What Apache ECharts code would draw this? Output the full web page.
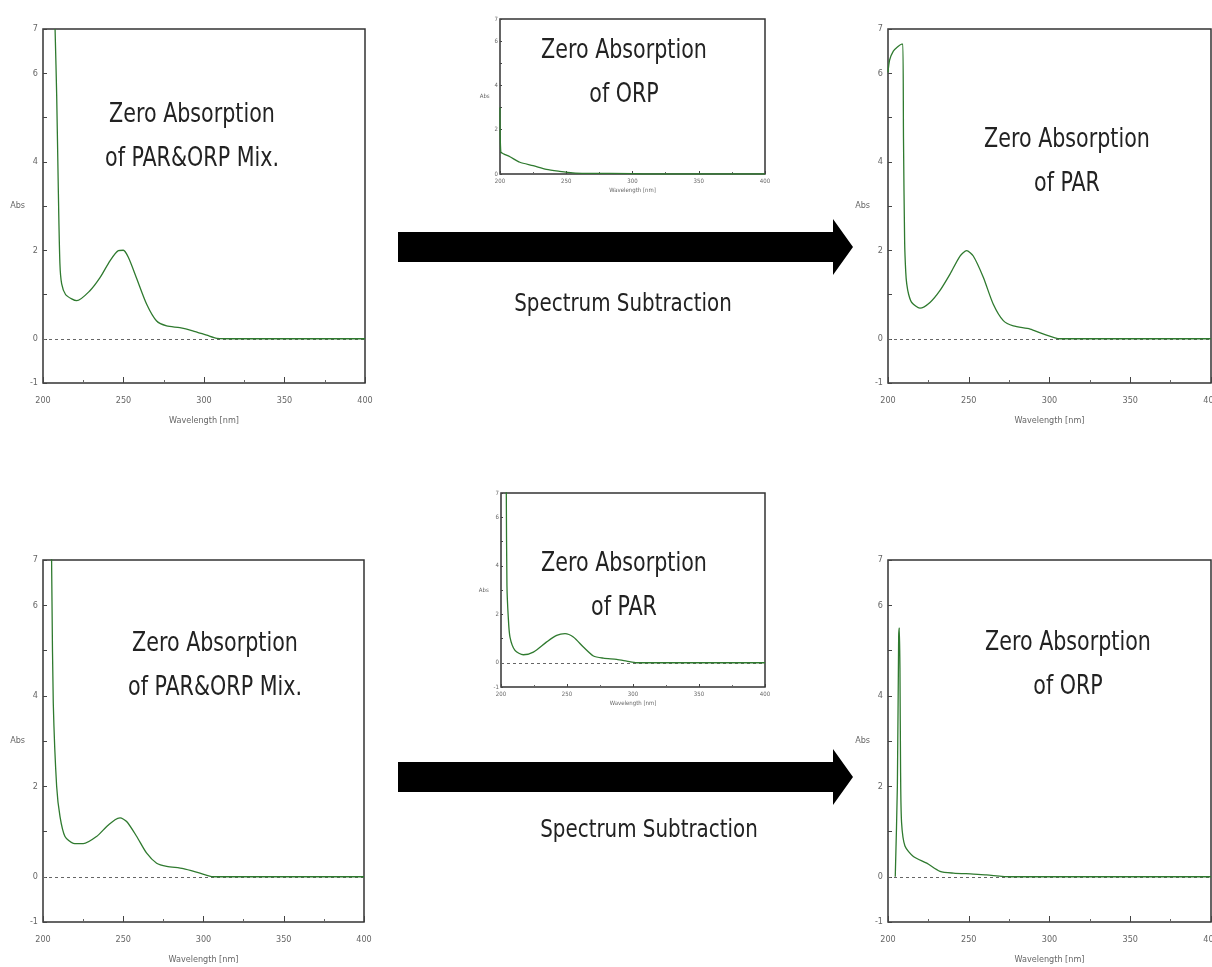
<!DOCTYPE html>
<html>
<head>
<meta charset="utf-8">
<title>Spectrum subtraction</title>
<script src="https://cdn.jsdelivr.net/npm/echarts@6.0.0/dist/echarts.min.js"></script>
<style>
  html, body { margin: 0; padding: 0; background: #fff; overflow: hidden; }
  #chart { width: 1212px; height: 967px; }
</style>
</head>
<body>
<div id="chart"></div>
<script>
// wavelength [nm] and Abs
const mixTopX = [207.5, 208.5, 209.5, 210.5, 211.6, 214, 217.8, 221, 229, 235.4, 241.6, 246.8, 249.9, 253, 258, 264.4, 270.6, 276.8, 285, 293, 301.7, 308, 320, 360, 400]
const mixTopY = [7.0, 5.5, 3.4, 1.7, 1.24, 1.0, 0.9, 0.86, 1.08, 1.38, 1.76, 1.99, 2.0, 1.84, 1.38, 0.78, 0.4, 0.29, 0.25, 0.18, 0.08, 0.01, 0, 0, 0]

const orpTopX = [200, 200.6, 203, 207.5, 215, 225, 235, 245, 255, 265, 300, 310, 400]
const orpTopY = [3.0, 1.0, 0.9, 0.78, 0.53, 0.38, 0.21, 0.12, 0.05, 0.03, 0.02, 0, 0]

const parTopX = [200, 201, 203.3, 206, 208.5, 209.2, 209.6, 210.3, 211, 211.6, 212.8, 214.7, 219.8, 226, 232, 238.4, 244.6, 248.7, 252.8, 259, 265.2, 271.4, 277.6, 288, 296, 306.5, 320, 400]
const parTopY = [6.02, 6.3, 6.5, 6.6, 6.66, 6.66, 4.5, 2.2, 1.5, 1.24, 1.0, 0.82, 0.69, 0.82, 1.08, 1.46, 1.87, 1.99, 1.87, 1.39, 0.78, 0.41, 0.29, 0.22, 0.11, 0, 0, 0]

const mixBotX = [205.3, 205.6, 206.4, 208.5, 210.6, 213.7, 218.9, 225.1, 233.4, 239.7, 244.9, 248, 252.1, 258.4, 264.6, 270.8, 277.1, 287.4, 297.8, 306, 320, 400]
const mixBotY = [7.2, 6.1, 3.84, 2.0, 1.33, 0.89, 0.74, 0.73, 0.89, 1.11, 1.26, 1.3, 1.22, 0.89, 0.52, 0.3, 0.23, 0.18, 0.08, 0, 0, 0]

const parBotX = [204, 204.5, 205.5, 206.8, 210.6, 216.9, 224.5, 234.6, 242.2, 248.5, 254.8, 262.4, 270, 277.5, 287.6, 295.2, 302.8, 320, 400]
const parBotY = [7.2, 3.2, 1.89, 1.06, 0.51, 0.33, 0.44, 0.86, 1.13, 1.2, 1.06, 0.65, 0.28, 0.19, 0.14, 0.07, 0, 0, 0]

const orpBotX = [204.5, 204.8, 205.8, 206.6, 207, 207.4, 207.8, 208.4, 210.5, 215.7, 224, 232.2, 240.5, 252.9, 261, 276, 400]
const orpBotY = [0, 0, 2.0, 5.3, 5.5, 4.6, 2.3, 1.2, 0.68, 0.45, 0.3, 0.12, 0.08, 0.06, 0.04, 0, 0]

const xTicks = [200, 250, 300, 350, 400]
const yLabelsBig = [-1, 0, 2, 4, 6, 7]
const yLabelsSmall = [0, 2, 4, 6, 7]

const panels = [
  { box: [43, 29, 322, 354], x: mixTopX, y: mixTopY, yMin: -1, labels: yLabelsBig, small: false,
    title: ['Zero Absorption', 'of PAR&ORP Mix.'], tc: [192, 115] },
  { box: [500, 19, 265, 155], x: orpTopX, y: orpTopY, yMin: 0, labels: yLabelsSmall, small: true,
    title: ['Zero Absorption', 'of ORP'], tc: [624, 51] },
  { box: [888, 29, 323, 354], x: parTopX, y: parTopY, yMin: -1, labels: yLabelsBig, small: false,
    title: ['Zero Absorption', 'of PAR'], tc: [1067, 140] },
  { box: [43, 560, 321, 362], x: mixBotX, y: mixBotY, yMin: -1, labels: yLabelsBig, small: false,
    title: ['Zero Absorption', 'of PAR&ORP Mix.'], tc: [215, 644] },
  { box: [501, 493, 264, 194], x: parBotX, y: parBotY, yMin: -1, labels: yLabelsBig, small: true,
    title: ['Zero Absorption', 'of PAR'], tc: [624, 564] },
  { box: [888, 560, 323, 362], x: orpBotX, y: orpBotY, yMin: -1, labels: yLabelsBig, small: false,
    title: ['Zero Absorption', 'of ORP'], tc: [1068, 643] },
]

const narrow = '"Liberation Sans Narrow", "DejaVu Sans Condensed", sans-serif'

const grid = []
const xAxis = []
const yAxis = []
const series = []
const graphic = []

panels.forEach((p, i) => {
  const fs = p.small ? 6 : 9
  grid.push({
    left: p.box[0], top: p.box[1], width: p.box[2], height: p.box[3],
    outerBoundsMode: 'none', containLabel: false,
    show: true, borderColor: '#333', borderWidth: 1.5, backgroundColor: '#fff'
  })
  xAxis.push({
    gridIndex: i, type: 'value', min: 200, max: 400, interval: 50,
    name: 'Wavelength [nm]', nameLocation: 'middle', nameGap: p.small ? 13 : 33,
    nameTextStyle: { fontFamily: narrow, fontSize: fs, color: '#666' },
    axisLine: { show: false, onZero: false },
    axisTick: { show: true, inside: true, length: p.small ? 3 : 6, lineStyle: { color: '#444' } },
    minorTick: { show: true, splitNumber: 2, length: p.small ? 2 : 3, lineStyle: { color: '#666' } },
    splitLine: { show: false },
    axisLabel: {
      fontFamily: narrow, fontSize: fs, color: '#666', margin: p.small ? 4 : 13,
      formatter: v => xTicks.includes(v) ? String(v) : ''
    }
  })
  yAxis.push({
    gridIndex: i, type: 'value', min: p.yMin, max: 7, interval: 1,
    name: 'Abs', nameLocation: 'middle', nameRotate: 0, nameGap: p.small ? 10 : 14,
    nameTextStyle: { fontFamily: narrow, fontSize: fs, color: '#666' },
    axisLine: { show: false, onZero: false },
    axisTick: { show: true, inside: true, length: p.small ? 2 : 4, lineStyle: { color: '#444' } },
    splitLine: { show: false },
    axisLabel: {
      fontFamily: narrow, fontSize: fs, color: '#666', margin: p.small ? 2 : 5,
      formatter: v => p.labels.includes(v) ? String(v) : ''
    }
  })
  const s = {
    type: 'line', xAxisIndex: i, yAxisIndex: i,
    data: p.x.map((w, k) => [w, p.y[k]]),
    showSymbol: false, smooth: 0.25, clip: true,
    lineStyle: { color: '#2f7a2f', width: 1.3 },
    z: 3
  }
  if (p.yMin < 0) {
    s.markLine = {
      silent: true, symbol: 'none', label: { show: false },
      lineStyle: { color: '#666', type: [3, 3], width: 1 },
      data: [{ yAxis: 0 }],
      z: 2
    }
  }
  series.push(s)
  p.title.forEach((t, k) => {
    graphic.push({
      type: 'text', z: 10,
      x: p.tc[0], y: p.tc[1] + k * 44, scaleX: 0.85,
      style: {
        text: t, x: 0, y: 0,
        textAlign: 'center', textVerticalAlign: 'middle',
        font: '27px ' + narrow, fill: '#222'
      }
    })
  })
})

// subtraction arrows and their captions
const arrows = [
  { y: 247, caption: [623, 305] },
  { y: 777, caption: [649, 831] }
]
arrows.forEach(a => {
  graphic.push({
    type: 'polygon', z: 10,
    shape: { points: [[398, a.y - 15], [833, a.y - 15], [833, a.y - 28], [853, a.y], [833, a.y + 28], [833, a.y + 15], [398, a.y + 15]] },
    style: { fill: '#000' }
  })
  graphic.push({
    type: 'text', z: 10,
    x: a.caption[0], y: a.caption[1], scaleX: 0.92,
    style: {
      text: 'Spectrum Subtraction', x: 0, y: 0,
      textAlign: 'center', textVerticalAlign: 'middle',
      font: '24px ' + narrow, fill: '#222'
    }
  })
})

const mychart = echarts.init(document.getElementById('chart'))
mychart.setOption({
  animation: false,
  backgroundColor: '#fff',
  grid, xAxis, yAxis, series, graphic
})
window.addEventListener('resize', () => mychart.resize())
</script>
</body>
</html>
